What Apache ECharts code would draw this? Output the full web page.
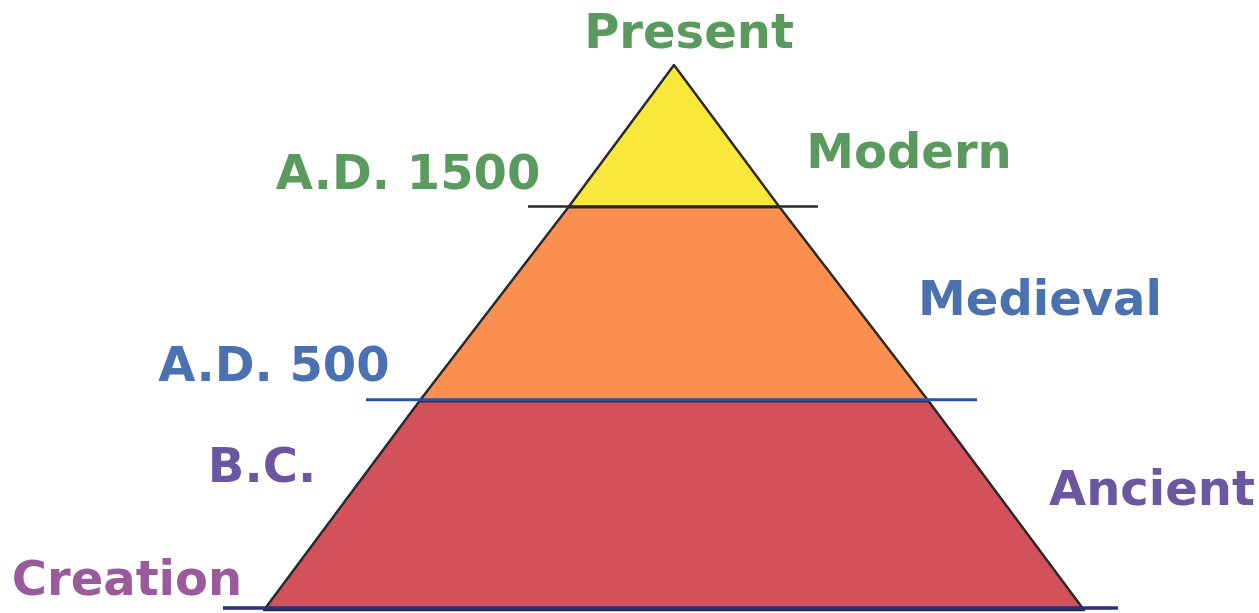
<!DOCTYPE html>
<html>
<head>
<meta charset="utf-8">
<script src="https://cdn.jsdelivr.net/npm/echarts@6/dist/echarts.min.js"></script>
<style>
html, body { margin: 0; background: #fff; }
#chart { width: 1259px; height: 613px; }
</style>
</head>
<body>
<div id="chart"></div>
<script>
// tiers, bottom to top
var eras = ['Ancient', 'Medieval', 'Modern'];
var eraWidths = [820, 509, 211]; // width at the bottom of each tier
var eraHeights = [209, 194, 142];
var eraColors = ['#d2515a', '#fa8f50', '#f9e73c'];

// dividing lines (level above the base, left end, right end)
var boundaryNames = ['Creation', 'A.D. 500', 'A.D. 1500'];
var boundaryLevels = [0, 209, 403];
var boundaryFrom = [-41, 102, 264];
var boundaryTo = [854, 713, 554];
var boundaryColors = ['#2b2e7a', '#2d51a0', '#2a2a2a'];
var boundaryWidths = [3.5, 3, 2.5];

var chart = echarts.init(document.getElementById('chart'));

var font = 'bold 48px "DejaVu Sans"';
function txt(text, x, y, color) {
  return {
    type: 'text',
    x: x,
    y: y,
    z: 10,
    style: {
      text: text,
      font: font,
      fill: color,
      align: 'center',
      verticalAlign: 'middle'
    }
  };
}

var funnelData = [];
for (var i = 0; i < eras.length; i++) {
  funnelData.push({
    name: eras[i],
    value: eraWidths[i],
    itemStyle: { color: eraColors[i], height: eraHeights[i] }
  });
}

var lineSeries = [];
for (var j = 0; j < boundaryNames.length; j++) {
  lineSeries.push({
    type: 'line',
    name: boundaryNames[j],
    z: 5,
    clip: false,
    symbol: 'none',
    silent: true,
    lineStyle: { color: boundaryColors[j], width: boundaryWidths[j] },
    data: [[boundaryFrom[j], boundaryLevels[j]], [boundaryTo[j], boundaryLevels[j]]]
  });
}

var option = {
  animation: false,
  // grid padded 50 units left/right and 5 below so the lines fit inside
  grid: { left: 214, top: 65, width: 920, height: 550 },
  xAxis: { type: 'value', min: -50, max: 870, show: false },
  yAxis: { type: 'value', min: -5, max: 545, show: false },
  series: [{
    type: 'funnel',
    sort: 'ascending',
    left: 264,
    top: 65,
    width: 820,
    height: 545,
    min: 0,
    max: 820,
    minSize: 0,
    maxSize: '100%',
    gap: 0,
    silent: true,
    label: { show: false },
    labelLine: { show: false },
    itemStyle: { borderColor: '#2a2a2a', borderWidth: 2.5 },
    data: funnelData
  }].concat(lineSeries),
  graphic: [
    txt('Present', 689, 36, '#5b9a5e'),
    txt('Modern', 909, 156, '#5b9a5e'),
    txt('A.D. 1500', 408, 177, '#5b9a5e'),
    txt('Medieval', 1040, 303, '#4b71b0'),
    txt('A.D. 500', 274, 369, '#4b71b0'),
    txt('B.C.', 262, 470, '#6b56a0'),
    txt('Ancient', 1152, 493, '#6b56a0'),
    txt('Creation', 127, 583, '#9a5a9c')
  ]
};
chart.setOption(option);
</script>
</body>
</html>
